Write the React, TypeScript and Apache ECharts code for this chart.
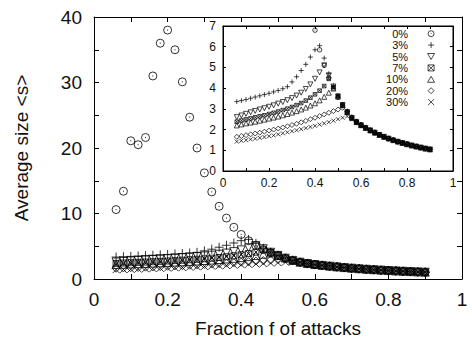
import React, { useEffect, useRef } from "react";
import * as echarts from "echarts";

const fractions = [
  0.06, 0.08, 0.1, 0.12, 0.14, 0.16, 0.18, 0.2, 0.22, 0.24, 0.26, 0.28, 0.3, 0.32, 0.34,
  0.36, 0.38, 0.4, 0.42, 0.44, 0.46, 0.48, 0.5, 0.52, 0.54, 0.56, 0.58, 0.6, 0.62, 0.64,
  0.66, 0.68, 0.7, 0.72, 0.74, 0.76, 0.78, 0.8, 0.82, 0.84, 0.86, 0.88, 0.9,
];

const s0 = [
  10.6, 13.4, 21.1, 20.5, 21.6, 31.0, 36.0, 38.0, 35.0, 30.1, 24.7, 20.0, 16.2, 13.3, 11.1,
  9.3, 7.9, 6.8, 5.85, 5.1, 4.5, 4.0, 3.55, 3.15, 2.82, 2.55, 2.35, 2.2, 2.07, 1.95,
  1.84, 1.74, 1.64, 1.56, 1.48, 1.41, 1.35, 1.29, 1.23, 1.18, 1.13, 1.08, 1.04,
];
const s3 = [
  3.35, 3.4, 3.45, 3.51, 3.57, 3.63, 3.69, 3.75, 3.82, 3.89, 3.97, 4.07, 4.3, 4.55, 4.85,
  5.15, 5.5, 5.85, 6.05, 5.45, 4.7, 4.1, 3.62, 3.2, 2.86, 2.58, 2.38, 2.22, 2.09, 1.97,
  1.86, 1.75, 1.65, 1.57, 1.49, 1.42, 1.36, 1.3, 1.24, 1.19, 1.14, 1.09, 1.05,
];
const s5 = [
  2.6, 2.68, 2.76, 2.83, 2.9, 2.97, 3.03, 3.1, 3.17, 3.25, 3.33, 3.42, 3.52, 3.64, 3.78,
  3.96, 4.18, 4.45, 4.76, 5.1, 4.62, 4.08, 3.6, 3.18, 2.84, 2.56, 2.36, 2.21, 2.08, 1.96,
  1.85, 1.74, 1.65, 1.56, 1.48, 1.41, 1.35, 1.29, 1.23, 1.18, 1.13, 1.08, 1.04,
];
const s7 = [
  2.38, 2.44, 2.49, 2.54, 2.59, 2.64, 2.69, 2.75, 2.81, 2.87, 2.94, 3.01, 3.09, 3.18, 3.28,
  3.4, 3.54, 3.7, 3.88, 4.1, 4.45, 4.05, 3.62, 3.2, 2.85, 2.57, 2.37, 2.21, 2.08, 1.96,
  1.85, 1.75, 1.65, 1.56, 1.49, 1.42, 1.35, 1.29, 1.24, 1.18, 1.13, 1.09, 1.04,
];
const s10 = [
  2.2, 2.25, 2.3, 2.34, 2.38, 2.43, 2.48, 2.53, 2.58, 2.63, 2.69, 2.75, 2.82, 2.89, 2.97,
  3.06, 3.16, 3.27, 3.41, 3.58, 3.78, 3.98, 3.6, 3.19, 2.85, 2.57, 2.36, 2.21, 2.08, 1.96,
  1.85, 1.74, 1.65, 1.57, 1.49, 1.42, 1.35, 1.29, 1.23, 1.18, 1.13, 1.08, 1.04,
];
const s20 = [
  1.65, 1.69, 1.73, 1.77, 1.81, 1.85, 1.9, 1.95, 2.0, 2.05, 2.1, 2.16, 2.22, 2.28, 2.35,
  2.42, 2.5, 2.57, 2.65, 2.73, 2.81, 2.89, 2.97, 3.05, 2.88, 2.6, 2.4, 2.24, 2.1, 1.98,
  1.87, 1.76, 1.66, 1.58, 1.5, 1.43, 1.36, 1.3, 1.24, 1.19, 1.14, 1.09, 1.05,
];
const s30 = [
  1.42, 1.46, 1.49, 1.53, 1.56, 1.6, 1.64, 1.68, 1.72, 1.77, 1.82, 1.87, 1.92, 1.97, 2.02,
  2.07, 2.13, 2.18, 2.24, 2.3, 2.36, 2.43, 2.5, 2.57, 2.64, 2.5, 2.33, 2.19, 2.06, 1.94,
  1.83, 1.73, 1.64, 1.55, 1.47, 1.4, 1.34, 1.28, 1.23, 1.17, 1.12, 1.08, 1.03,
];

const seriesNames = ["0%", "3%", "5%", "7%", "10%", "20%", "30%"];
const seriesValues = [s0, s3, s5, s7, s10, s20, s30];

const SYMBOLS = [
  "path://M0,5 A5,5 0 1,1 10,5 A5,5 0 1,1 0,5 Z M5,4.3 L5,5.7",
  "path://M5,0 L5,10 M0,5 L10,5",
  "path://M0,0 L10,0 L5,8.66 Z",
  "path://M0,0 L10,0 L10,10 L0,10 Z M0,0 L10,10 M0,10 L10,0",
  "path://M5,0 L10,8.66 L0,8.66 Z",
  "path://M5,0 L10,5 L5,10 L0,5 Z",
  "path://M0,0 L10,10 M0,10 L10,0",
];
const MAIN_SIZES = [8, 9, 8, 6, 8, 8, 7];
const INSET_SIZES = [4.5, 5, 5, 3.6, 5, 5, 4];

const FONT = "'Liberation Sans', Arial, Helvetica, sans-serif";

export default function App() {
  const ref = useRef<HTMLDivElement>(null);

  useEffect(() => {
    document.body.style.margin = "0";
    if (!ref.current) return;
    const chart = echarts.init(ref.current, null, { renderer: "svg" });

    const fmtX = (v: number) => {
      const r = Math.round(v * 10);
      if (r % 2 !== 0) return "";
      if (r === 0) return "0";
      if (r === 10) return "1";
      return (r / 10).toFixed(1);
    };

    const xAxisBase = (gridIndex: number, position: string, showLabel: boolean, big: boolean) => ({
      type: "value",
      gridIndex,
      position,
      min: 0,
      max: 1,
      interval: 0.1,
      axisLine: { show: true, onZero: false, lineStyle: { color: "#000", width: 1 } },
      axisTick: { show: true, inside: true, length: big ? 5 : 3, lineStyle: { color: "#000", width: 1 } },
      splitLine: { show: false },
      axisLabel: {
        show: showLabel,
        formatter: fmtX,
        fontSize: big ? 19 : 12,
        fontFamily: FONT,
        color: "#111",
        margin: big ? 11 : 6,
      },
    });

    const option: any = {
      animation: false,
      backgroundColor: "#fff",
      grid: [
        { left: 94, top: 17, width: 368, height: 262, show: false },
        { left: 223, top: 26, width: 230, height: 145, show: true, backgroundColor: "#fff", borderColor: "#000", borderWidth: 1 },
      ],
      xAxis: [
        {
          ...xAxisBase(0, "bottom", true, true),
          name: "Fraction f of attacks",
          nameLocation: "middle",
          nameGap: 40,
          nameTextStyle: { fontSize: 19, fontFamily: FONT, color: "#111" },
        },
        xAxisBase(0, "top", false, true),
        xAxisBase(1, "bottom", true, false),
        xAxisBase(1, "top", false, false),
      ],
      yAxis: [
        {
          type: "value",
          gridIndex: 0,
          position: "left",
          min: 0,
          max: 40,
          interval: 5,
          name: "Average size <s>",
          nameLocation: "middle",
          nameGap: 63,
          nameTextStyle: { fontSize: 19, fontFamily: FONT, color: "#111" },
          axisLine: { show: true, onZero: false, lineStyle: { color: "#000", width: 1 } },
          axisTick: { show: true, inside: true, length: 5, lineStyle: { color: "#000" } },
          splitLine: { show: false },
          axisLabel: {
            formatter: (v: number) => (v % 10 === 0 ? String(v) : ""),
            fontSize: 19,
            fontFamily: FONT,
            color: "#111",
            margin: 12,
          },
        },
        {
          type: "value",
          gridIndex: 0,
          position: "right",
          min: 0,
          max: 40,
          interval: 5,
          axisLine: { show: true, onZero: false, lineStyle: { color: "#000", width: 1 } },
          axisTick: { show: true, inside: true, length: 5, lineStyle: { color: "#000" } },
          splitLine: { show: false },
          axisLabel: { show: false },
        },
        {
          type: "value",
          gridIndex: 1,
          position: "left",
          min: 0,
          max: 7,
          interval: 1,
          axisLine: { show: true, onZero: false, lineStyle: { color: "#000", width: 1 } },
          axisTick: { show: true, inside: true, length: 3, lineStyle: { color: "#000" } },
          splitLine: { show: false },
          axisLabel: { fontSize: 12, fontFamily: FONT, color: "#111", margin: 7 },
        },
        {
          type: "value",
          gridIndex: 1,
          position: "right",
          min: 0,
          max: 7,
          interval: 1,
          axisLine: { show: true, onZero: false, lineStyle: { color: "#000", width: 1 } },
          axisTick: { show: true, inside: true, length: 3, lineStyle: { color: "#000" } },
          splitLine: { show: false },
          axisLabel: { show: false },
        },
      ],
      legend: {
        data: seriesNames,
        orient: "vertical",
        align: "right",
        right: 37,
        top: 28,
        itemWidth: 36,
        itemHeight: 6,
        itemGap: 0,
        padding: 0,
        selectedMode: false,
        textStyle: { fontSize: 11, lineHeight: 11.4, fontFamily: FONT, color: "#111" },
        itemStyle: { color: "rgba(0,0,0,0)", borderColor: "#000", borderWidth: 0.9 },
      },
      series: [] as any[],
    };

    seriesNames.forEach((name, i) => {
      const data = fractions.map((f, k) => [f, seriesValues[i][k]]);
      option.series.push({
        type: "scatter",
        name,
        xAxisIndex: 2,
        yAxisIndex: 2,
        data,
        symbol: SYMBOLS[i],
        symbolSize: INSET_SIZES[i],
        clip: true,
        z: 10,
        itemStyle: { color: "rgba(0,0,0,0)", borderColor: "#000", borderWidth: 0.9 },
      });
    });
    seriesNames.forEach((name, i) => {
      const data = fractions.map((f, k) => [f, seriesValues[i][k]]);
      option.series.push({
        type: "scatter",
        name,
        xAxisIndex: 0,
        yAxisIndex: 0,
        data,
        symbol: SYMBOLS[i],
        symbolSize: MAIN_SIZES[i],
        clip: true,
        z: 2,
        itemStyle: { color: "rgba(0,0,0,0)", borderColor: "#000", borderWidth: 1 },
      });
    });

    chart.setOption(option);
    return () => chart.dispose();
  }, []);

  return <div ref={ref} style={{ width: 472, height: 347 }} />;
}
